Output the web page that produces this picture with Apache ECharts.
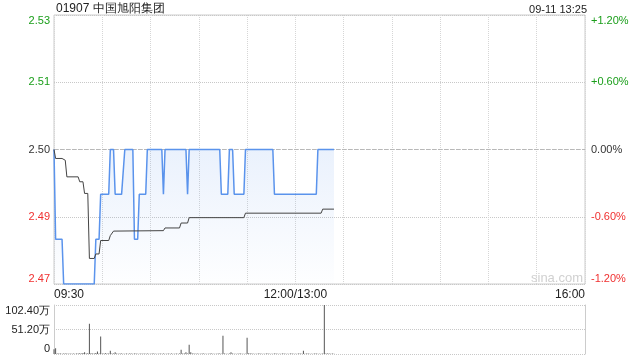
<!DOCTYPE html>
<html><head><meta charset="utf-8">
<script src="https://cdn.jsdelivr.net/npm/echarts@6/dist/echarts.min.js"></script>
<style>html,body{margin:0;padding:0;background:#fff}#c{width:640px;height:360px}</style>
</head><body><div id="c"></div>
<script>
const titleText = '01907 中国旭阳集团';
const stampText = '09-11 13:25';
const watermark = 'sina.com';
const prevClose = 2.50;
const timeTickLabels = {0: '09:30', 150: '12:00/13:00', 330: '16:00'};
const priceTickLabels = ['2.47', '2.49', '2.50', '2.51', '2.53'];
const pctTickLabels = ['-1.20%', '-0.60%', '0.00%', '+0.60%', '+1.20%'];
const volTickLabels = ['0', '51.20万', '102.40万'];

// price line: minute index -> price
const priceMinutes = [0, 1, 5, 6, 25, 26, 28, 29, 34, 35, 37, 38, 42, 44, 49, 50, 52, 53, 57, 58, 67, 68, 69, 82, 83, 84, 103, 104, 108, 109, 111, 112, 118, 119, 136, 137, 163, 164, 174];
const priceValues  = [2.50, 2.48, 2.48, 2.47, 2.47, 2.48, 2.48, 2.49, 2.49, 2.50, 2.50, 2.49, 2.49, 2.50, 2.50, 2.48, 2.48, 2.49, 2.49, 2.50, 2.50, 2.49, 2.50, 2.50, 2.49, 2.50, 2.50, 2.49, 2.49, 2.50, 2.50, 2.49, 2.49, 2.50, 2.50, 2.49, 2.49, 2.50, 2.50];

// average price line
const avgMinutes = [0, 1, 5, 6, 7, 8, 15, 16, 18, 19, 21, 22, 25, 26, 28, 29, 34, 35, 36, 37, 68, 69, 78, 79, 83, 84, 118, 119, 166, 167, 174];
const avgValues  = [2.500, 2.498, 2.498, 2.4976, 2.4976, 2.4939, 2.4939, 2.4928, 2.4928, 2.4902, 2.4902, 2.4757, 2.4757, 2.4767, 2.4767, 2.4797, 2.4797, 2.4808, 2.4808, 2.4818, 2.4819, 2.4825, 2.4825, 2.4836, 2.4836, 2.4848, 2.4848, 2.4858, 2.4858, 2.4867, 2.4867];

// volume per minute (万股), minutes 0..174
const volValues = [
  10, 12, 1, 0.8, 1, 0.6, 1.2, 0.8, 1, 0.5,
  1, 0.7, 1, 0.6, 1, 0.8, 1.5, 1, 2, 3.5,
  1, 1.5, 63, 1.5, 1, 1, 2, 5, 1, 36.7,
  1, 0.8, 1.5, 1, 1, 7, 1, 0.8, 3.5, 1,
  0.6, 0.8, 1, 0.5, 0.7, 1, 0.6, 0.8, 1, 0.5,
  0.8, 1, 0.6, 0.7, 1, 0.5, 0.8, 0.6, 1, 0.7,
  0.5, 0.8, 1, 0.6, 0.7, 0.5, 1, 0.6, 0.8, 0.7,
  0.5, 1, 0.6, 0.8, 0.5, 0.7, 1, 0.6, 1.2, 9,
  1, 0.8, 3.5, 1, 19.4, 3.5, 1, 0.8, 0.6, 1,
  0.7, 0.5, 0.8, 1, 0.6, 0.7, 0.5, 0.8, 1, 0.6,
  0.7, 0.5, 0.8, 1, 0.6, 38, 1, 0.7, 0.5, 0.8,
  3.5, 1, 0.6, 0.7, 0.5, 0.8, 1, 0.6, 0.7, 0.5,
  34, 1.5, 0.8, 1, 0.6, 0.7, 0.5, 0.8, 1, 0.6,
  0.7, 0.5, 0.8, 1, 0.6, 0.7, 0.5, 0.8, 1, 0.6,
  0.7, 0.5, 0.8, 1, 0.6, 0.7, 0.5, 0.8, 1, 0.6,
  0.7, 0.5, 0.8, 1, 0.6, 7, 0.5, 0.8, 1, 0.6,
  0.7, 0.5, 0.8, 1, 0.6, 0.7, 0.5, 0.8, 102.4, 1,
  0.8, 1.2, 0.6, 0.8, 0.5
];

const FONT = 'Liberation Sans, Arial, sans-serif';
const toPct = p => (p / prevClose - 1) * 100;
const upDownColor = v => { v = Number(v); return v > 1e-9 ? '#1a9e1a' : (v < -1e-9 ? '#f03030' : '#333'); };
const pctIndex = v => Math.round((Number(v) + 1.2) / 0.6);

const chart = echarts.init(document.getElementById('c'), null, {renderer: 'canvas'});
chart.setOption({
  animation: false,
  backgroundColor: '#fff',
  textStyle: {fontFamily: FONT},
  graphic: [
    {type: 'text', left: 56, top: 3, style: {text: titleText, font: '12px ' + FONT, fill: '#222'}},
    {type: 'text', right: 53, top: 4, style: {text: stampText, font: '11px ' + FONT, fill: '#222'}},
    {type: 'text', left: 531, top: 272, z: 0, style: {text: watermark, font: '13px ' + FONT, fill: '#d0d0d0'}}
  ],
  grid: [
    {left: 54, right: 55, top: 15, height: 269, show: true, borderColor: '#ccc', borderWidth: 1, backgroundColor: 'transparent'},
    {left: 54, right: 55, top: 305, height: 49}
  ],
  xAxis: [
    {type: 'value', gridIndex: 0, min: 0, max: 330, interval: 30,
     axisLine: {show: false}, axisTick: {show: false},
     splitLine: {show: true, lineStyle: {color: '#d6d6d6', type: 'dotted'}},
     axisLabel: {show: true, margin: 5, fontSize: 12, color: '#222', fontFamily: FONT,
       alignMinLabel: 'left', alignMaxLabel: 'right', showMinLabel: true, showMaxLabel: true,
       formatter: v => timeTickLabels[Math.round(v)] || ''}},
    {type: 'value', gridIndex: 1, min: 0, max: 330, interval: 30,
     axisLine: {show: false}, axisTick: {show: false}, axisLabel: {show: false}, splitLine: {show: false}}
  ],
  yAxis: [
    {type: 'value', gridIndex: 0, min: -1.2, max: 1.2, interval: 0.6, position: 'left',
     axisLine: {show: false}, axisTick: {show: false},
     splitLine: {show: true, lineStyle: {color: '#c8c8c8', type: 'dotted'}},
     axisLabel: {margin: 4, fontSize: 11, fontFamily: FONT,
       verticalAlignMinLabel: 'bottom', verticalAlignMaxLabel: 'top',
       color: v => upDownColor(v), formatter: v => priceTickLabels[pctIndex(v)]}},
    {type: 'value', gridIndex: 0, min: -1.2, max: 1.2, interval: 0.6, position: 'right',
     axisLine: {show: false}, axisTick: {show: false}, splitLine: {show: false},
     axisLabel: {margin: 6, fontSize: 11, fontFamily: FONT,
       verticalAlignMinLabel: 'bottom', verticalAlignMaxLabel: 'top',
       color: v => upDownColor(v), formatter: v => pctTickLabels[pctIndex(v)]}},
    {type: 'value', gridIndex: 1, min: 0, max: 102.4, interval: 51.2, position: 'left',
     axisLine: {show: true, lineStyle: {color: '#ccc'}}, axisTick: {show: false},
     splitLine: {show: true, lineStyle: {color: '#c8c8c8', type: 'dotted'}},
     axisLabel: {margin: 4, fontSize: 11, color: '#222', fontFamily: FONT,
       verticalAlignMinLabel: 'bottom', verticalAlignMaxLabel: 'top',
       formatter: v => volTickLabels[Math.round(Number(v) / 51.2)]}},
    {type: 'value', gridIndex: 1, min: 0, max: 102.4, interval: 51.2, position: 'right',
     axisLine: {show: true, lineStyle: {color: '#ccc'}}, axisTick: {show: false},
     splitLine: {show: false}, axisLabel: {show: false}}
  ],
  series: [
    {type: 'line', name: 'price', xAxisIndex: 0, yAxisIndex: 0, showSymbol: false, z: 3,
     data: priceMinutes.map((m, i) => [m, toPct(priceValues[i])]),
     lineStyle: {color: '#5a93ec', width: 1.5},
     areaStyle: {origin: 'start', color: new echarts.graphic.LinearGradient(0, 0, 0, 1, [
       {offset: 0, color: 'rgba(90,147,236,0.18)'}, {offset: 1, color: 'rgba(90,147,236,0.01)'}])},
     markLine: {silent: true, symbol: 'none', label: {show: false}, z: 1,
       lineStyle: {color: '#b8b8b8', type: [4, 2], width: 1},
       data: [{yAxis: 0}]}},
    {type: 'line', name: 'avg', xAxisIndex: 0, yAxisIndex: 0, showSymbol: false, z: 4,
     data: avgMinutes.map((m, i) => [m, toPct(avgValues[i])]),
     lineStyle: {color: '#444', width: 1}},
    {type: 'bar', name: 'vol', xAxisIndex: 1, yAxisIndex: 2, barWidth: 1,
     data: volValues.map((v, i) => [i, v]),
     itemStyle: {color: '#555'}}
  ]
});
</script></body></html>
